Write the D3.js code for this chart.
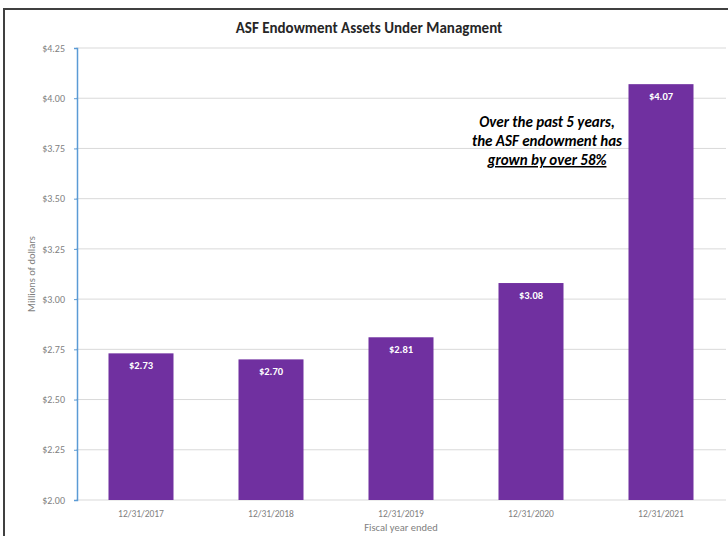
<!DOCTYPE html>
<html>
<head>
<meta charset="utf-8">
<script src="https://cdn.jsdelivr.net/npm/d3@7"></script>
<style>
  body { margin: 0; background: #fff; }
  svg { display: block; }
</style>
</head>
<body>
<svg id="chart" width="728" height="536"></svg>
<script>
const years = ["12/31/2017", "12/31/2018", "12/31/2019", "12/31/2020", "12/31/2021"];
const assets = [2.73, 2.70, 2.81, 3.08, 4.07];
const yTicks = [2.00, 2.25, 2.50, 2.75, 3.00, 3.25, 3.50, 3.75, 4.00, 4.25];
const note = ["Over the past 5 years,", "the ASF endowment has", "grown by over 58%"];

const font = "Calibri, Carlito, 'Liberation Sans', sans-serif";
const purple = "#7030a0";
const W = 728, H = 536;
const margin = { top: 48, right: 2, bottom: 36, left: 76 };

const svg = d3.select("#chart");

// outer frame (only the top and left edges are visible in the shot)
svg.append("rect")
    .attr("x", 4).attr("y", 9)
    .attr("width", W + 20).attr("height", H + 20)
    .attr("fill", "#fff")
    .attr("stroke", "#404040")
    .attr("stroke-width", 2);

const x = d3.scaleBand()
    .domain(years)
    .range([margin.left, W - margin.right])
    .paddingInner(0.5)
    .paddingOuter(0.25);

const y = d3.scaleLinear()
    .domain([2.0, 4.25])
    .range([H - margin.bottom, margin.top]);

// gridlines
svg.append("g")
    .selectAll("line")
    .data(yTicks)
    .join("line")
    .attr("x1", margin.left)
    .attr("x2", W - margin.right)
    .attr("y1", d => y(d))
    .attr("y2", d => y(d))
    .attr("stroke", "#d9d9d9")
    .attr("stroke-width", 1);

// bars
svg.append("g")
    .selectAll("rect")
    .data(assets)
    .join("rect")
    .attr("x", (d, i) => x(years[i]))
    .attr("width", x.bandwidth())
    .attr("y", d => y(d))
    .attr("height", d => y(2.0) - y(d))
    .attr("fill", purple);

// value labels inside the bars
svg.append("g")
    .selectAll("text")
    .data(assets)
    .join("text")
    .attr("x", (d, i) => x(years[i]) + x.bandwidth() / 2)
    .attr("y", d => y(d) + 16)
    .attr("text-anchor", "middle")
    .attr("font-family", font)
    .attr("font-weight", "bold")
    .attr("font-size", 10.5)
    .attr("fill", "#fff")
    .text(d => "$" + d.toFixed(2));

// y axis: blue line with short ticks
const yAxis = svg.append("g")
    .attr("transform", `translate(${margin.left + 1},0)`)
    .call(d3.axisLeft(y).tickValues(yTicks).tickSize(3).tickPadding(9)
        .tickFormat(d => "$" + d.toFixed(2)));
yAxis.select(".domain").attr("stroke", "#5b9bd5").attr("stroke-width", 1.5);
yAxis.selectAll(".tick line").attr("stroke", "#5b9bd5");
yAxis.selectAll(".tick text")
    .attr("font-family", font)
    .attr("font-size", 10)
    .attr("fill", "#808080");

// x axis labels
const xAxis = svg.append("g")
    .attr("transform", `translate(0,${H - margin.bottom})`)
    .call(d3.axisBottom(x).tickSize(0).tickPadding(10));
xAxis.select(".domain").remove();
xAxis.selectAll(".tick text")
    .attr("font-family", font)
    .attr("font-size", 9.5)
    .attr("fill", "#7f7f7f");

// axis titles
svg.append("text")
    .attr("x", (margin.left + W - margin.right) / 2)
    .attr("y", 531)
    .attr("text-anchor", "middle")
    .attr("font-family", font)
    .attr("font-size", 10.5)
    .attr("fill", "#7f7f7f")
    .text("Fiscal year ended");

svg.append("text")
    .attr("transform", `translate(35,${(margin.top + H - margin.bottom) / 2}) rotate(-90)`)
    .attr("text-anchor", "middle")
    .attr("font-family", font)
    .attr("font-size", 10.5)
    .attr("fill", "#7f7f7f")
    .text("Millions of dollars");

// chart title
svg.append("text")
    .attr("x", 369)
    .attr("y", 33)
    .attr("text-anchor", "middle")
    .attr("font-family", font)
    .attr("font-weight", "bold")
    .attr("font-size", 15)
    .attr("fill", "#262626")
    .text("ASF Endowment Assets Under Managment");

// annotation
svg.append("g")
    .selectAll("text")
    .data(note)
    .join("text")
    .attr("x", 547)
    .attr("y", (d, i) => 127 + i * 19)
    .attr("text-anchor", "middle")
    .attr("font-family", font)
    .attr("font-weight", "bold")
    .attr("font-style", "italic")
    .attr("font-size", 15)
    .attr("fill", "#000")
    .attr("text-decoration", (d, i) => i === note.length - 1 ? "underline" : null)
    .text(d => d);
</script>
</body>
</html>
